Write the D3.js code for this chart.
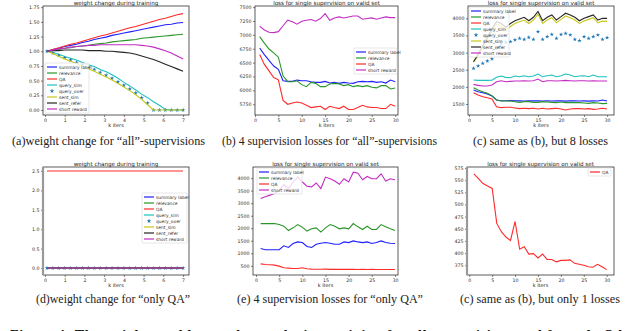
<!DOCTYPE html>
<html>
<head>
<style>
body{margin:0;background:#fff;}
svg text{font-family:"DejaVu Sans",sans-serif;}
.cap{font-family:"Liberation Serif",serif;font-size:12px;fill:#222;}
.foot{font-family:"Liberation Serif",serif;font-size:14px;font-weight:bold;fill:#111;}
</style>
</head>
<body>
<svg width="640" height="331"></svg>
<script src="https://d3js.org/d3.v7.min.js"></script>
<script>
// ---- weight curves, "all" supervisions (a) ----
var weightIters = [0.1,0.4,0.7,1.0,1.3,1.6,1.9,2.2,2.5,2.8,3.1,3.4,3.7,4.0,4.3,4.6,4.9,5.2,5.5,5.8,6.1,6.4,6.7,7.0];
var wSummary = [1.00,1.03,1.05,1.08,1.10,1.12,1.15,1.17,1.20,1.22,1.24,1.27,1.29,1.31,1.33,1.35,1.37,1.39,1.41,1.43,1.45,1.46,1.48,1.49];
var wRelevance = [1.00,1.02,1.03,1.05,1.06,1.08,1.09,1.10,1.12,1.13,1.14,1.16,1.17,1.18,1.19,1.20,1.22,1.23,1.24,1.25,1.26,1.27,1.28,1.29];
var wQA = [1.00,1.03,1.06,1.09,1.12,1.14,1.17,1.20,1.23,1.26,1.28,1.31,1.34,1.37,1.40,1.42,1.45,1.48,1.51,1.54,1.56,1.59,1.62,1.64];
var wQuerySim = [1.00,0.98,0.95,0.91,0.88,0.85,0.81,0.77,0.74,0.69,0.65,0.60,0.54,0.47,0.41,0.34,0.27,0.21,0.14,0.08,0.01,0.00,0.00,0.00];
var wQueryOver = [1.00,0.97,0.93,0.89,0.85,0.81,0.77,0.73,0.69,0.64,0.59,0.54,0.48,0.42,0.36,0.29,0.21,0.12,0.00,0.00,0.00,0.00,0.00,0.00];
var wSentSim = [1.00,0.96,0.91,0.87,0.83,0.79,0.75,0.70,0.66,0.61,0.56,0.51,0.45,0.39,0.33,0.26,0.18,0.09,0.00,0.00,0.00,0.00,0.00,0.00];
var wSentRefer = [1.00,1.01,1.01,1.02,1.02,1.02,1.02,1.01,1.01,1.01,1.00,1.00,0.99,0.98,0.97,0.95,0.92,0.89,0.86,0.82,0.78,0.74,0.70,0.66];
var wShortReward = [1.00,1.02,1.04,1.05,1.07,1.08,1.09,1.10,1.10,1.11,1.11,1.11,1.11,1.11,1.11,1.11,1.10,1.09,1.07,1.04,1.01,0.97,0.92,0.87];

// ---- weight curves, only QA (d) ----
var dQA = [2.5,2.5,2.5,2.5,2.5,2.5,2.5,2.5,2.5,2.5,2.5,2.5,2.5,2.5,2.5,2.5,2.5,2.5,2.5,2.5,2.5,2.5,2.5,2.5];
var dZero = [0,0,0,0,0,0,0,0,0,0,0,0,0,0,0,0,0,0,0,0,0,0,0,0];

// ---- losses on valid set ----
var epochs = [1,2,3,4,5,6,7,8,9,10,11,12,13,14,15,16,17,18,19,20,21,22,23,24,25,26,27,28,29,30];
var bSummary = [6763,6645,6539,6439,6380,6173,6162,6162,6185,6173,6173,6156,6144,6144,6162,6132,6144,6126,6144,6132,6126,6156,6162,6156,6162,6144,6156,6132,6185,6156];
var bRelevance = [6969,6851,6745,6675,6598,6262,6156,6156,6173,6103,6067,6144,6126,6067,6067,6114,6126,6114,6085,6103,6067,6085,6067,6085,6056,6044,6085,6085,6026,6044];
var bQA = [6645,6468,6350,6232,6191,5820,5749,5772,5790,5772,5731,5690,5702,5714,5655,5714,5690,5672,5714,5655,5655,5690,5731,5702,5690,5690,5672,5672,5749,5714];
var bShort = [7158,7087,7046,7040,7058,7164,7264,7235,7193,7246,7264,7276,7246,7294,7382,7264,7305,7323,7305,7323,7341,7341,7282,7294,7305,7282,7305,7323,7311,7311];

var cSummary = [1908,1860,1830,1791,1733,1617,1597,1597,1600,1590,1597,1588,1592,1597,1590,1585,1597,1588,1592,1590,1585,1597,1592,1588,1592,1585,1590,1588,1617,1588];
var cRelevance = [1976,1908,1860,1811,1743,1617,1587,1587,1587,1568,1548,1568,1568,1548,1548,1568,1558,1548,1539,1558,1539,1548,1539,1539,1529,1519,1539,1529,1510,1519];
var cQA = [1830,1762,1713,1684,1646,1422,1393,1403,1403,1383,1364,1374,1364,1374,1354,1374,1354,1364,1374,1354,1325,1354,1364,1364,1354,1364,1344,1354,1374,1354];
var cQuerySim = [2200,2190,2190,2190,2195,2278,2317,2278,2268,2317,2297,2326,2297,2317,2375,2297,2326,2346,2297,2326,2375,2346,2297,2317,2326,2297,2346,2297,2297,2297];
var cQueryOver = [2540,2610,2686,2755,2815,3124,3270,3300,3320,3370,3415,3385,3445,3385,3610,3385,3465,3530,3415,3530,3560,3515,3385,3350,3465,3415,3465,3515,3385,3435];
var cSentSim = [2720,2900,3150,3400,3620,3820,3770,3660,3760,3850,3900,3950,3850,3950,4120,3850,3950,4020,3870,3970,4070,4020,3950,3850,3920,3970,4020,3870,3920,3910];
var cSentRefer = [2735,2950,3200,3450,3700,3900,3850,3740,3850,3930,3980,4030,3930,4030,4200,3930,4030,4100,3950,4050,4150,4100,4030,3930,4000,4050,4100,3950,4000,4000];
var cShort = [2073,2044,2025,2025,2054,2151,2180,2151,2161,2171,2171,2180,2171,2180,2229,2151,2180,2180,2171,2180,2190,2180,2171,2180,2180,2171,2180,2171,2171,2171];

var eSummary = [1194,1142,1142,1142,1142,1299,1233,1390,1455,1429,1273,1233,1364,1403,1429,1403,1364,1364,1455,1429,1494,1455,1429,1455,1390,1429,1494,1429,1403,1390];
var eRelevance = [2186,2186,2186,2186,2147,2082,1912,2016,2147,2043,1886,1977,2016,1847,2016,2147,2082,1977,2016,1977,2186,2056,1951,2082,1951,1951,2147,2056,1977,1912];
var eQA = [581,555,542,530,489,424,411,398,398,424,385,372,368,365,370,362,365,362,360,362,360,358,360,358,360,358,356,358,358,356];
var eShort = [3190,3256,3320,3387,3500,3752,3582,3843,4040,3843,3674,3648,3804,3582,4040,3974,3883,3752,3974,3843,4235,4196,3935,4065,3974,3974,4170,3883,3974,3935];

var fQA = [563,553,543,538,533,461,444,433,426,465,408,413,398,399,390,398,387,387,382,385,385,386,379,377,375,372,371,377,372,366];

// ---- ticks ----
var iterTicks = [0,1,2,3,4,5,6,7];
var weightTicksY = [0,0.25,0.5,0.75,1.0,1.25,1.5,1.75];
var onlyQATicksY = [0,0.5,1.0,1.5,2.0,2.5];
var epochTicks = [0,5,10,15,20,25,30];
var bTicksY = [5750,6000,6250,6500,6750,7000,7250,7500];
var cTicksY = [1500,2000,2500,3000,3500,4000];
var eTicksY = [500,1000,1500,2000,2500,3000,3500,4000];
var fTicksY = [375,400,425,450,475,500,525,550,575];

var captions = [
  "(a)weight change for \u201call\u201d-supervisions",
  "(b) 4 supervision losses for \u201call\u201d-supervisions",
  "(c) same as (b), but 8 losses",
  "(d)weight change for \u201conly QA\u201d",
  "(e) 4 supervision losses for \u201conly QA\u201d",
  "(c) same as (b), but only 1 losses"
];

var col = {summary:"#1f1fff", relevance:"#2a962a", qa:"#ff2a2a", querySim:"#1fc0c0",
           queryOver:"#1f77b4", sentSim:"#c8c81a", sentRefer:"#262626", shortR:"#c42cc4"};

function eight(xs, v) {
  return [
    {name:"summary label", color:col.summary, xs:xs, v:v[0]},
    {name:"relevance", color:col.relevance, xs:xs, v:v[1]},
    {name:"QA", color:col.qa, xs:xs, v:v[2]},
    {name:"query_sim", color:col.querySim, xs:xs, v:v[3]},
    {name:"query_over", color:col.queryOver, xs:xs, v:v[4], marker:true},
    {name:"sent_sim", color:col.sentSim, xs:xs, v:v[5]},
    {name:"sent_refer", color:col.sentRefer, xs:xs, v:v[6]},
    {name:"short reward", color:col.shortR, xs:xs, v:v[7]}
  ];
}
function four(xs, v) {
  return [
    {name:"summary label", color:col.summary, xs:xs, v:v[0]},
    {name:"relevance", color:col.relevance, xs:xs, v:v[1]},
    {name:"QA", color:col.qa, xs:xs, v:v[2]},
    {name:"short reward", color:col.shortR, xs:xs, v:v[3]}
  ];
}

var panels = [
  {left:43, right:189, top:6, bottom:115, xd:[-0.1,7.3], yd:[-0.085,1.77], xt:iterTicks, yt:weightTicksY, yf:".2f",
   title:"weight change during training", series:eight(weightIters,[wSummary,wRelevance,wQA,wQuerySim,wQueryOver,wSentSim,wSentRefer,wShortReward]),
   leg:{x:45, y:63, w:44}},
  {left:255, right:398, top:6, bottom:115, xd:[0,30.6], yd:[5556,7520], xt:epochTicks, yt:bTicksY, yf:"d",
   title:"loss for single supervision on valid set", series:four(epochs,[bSummary,bRelevance,bQA,bShort]),
   leg:{x:354, y:48, w:43}},
  {left:468, right:614, top:6, bottom:115, xd:[-0.2,31.5], yd:[1179,4360], xt:epochTicks, yt:cTicksY, yf:"d",
   title:"loss for single supervision on valid set", series:eight(epochs,[cSummary,cRelevance,cQA,cQuerySim,cQueryOver,cSentSim,cSentRefer,cShort]),
   leg:{x:469, y:7, w:40}},
  {left:43, right:189, top:167, bottom:275, xd:[-0.1,7.3], yd:[-0.179,2.602], xt:iterTicks, yt:onlyQATicksY, yf:".1f",
   title:"weight change during training", series:eight(weightIters,[dZero,dZero,dQA,dZero,dZero,dZero,dZero,dZero]),
   leg:{x:142, y:193, w:45}, leftBar:true},
  {left:253, right:398, top:167, bottom:275, xd:[-0.65,30.65], yd:[136,4442], xt:epochTicks, yt:eTicksY, yf:"d",
   title:"loss for single supervision on valid set", series:four(epochs,[eSummary,eRelevance,eQA,eShort]),
   leg:{x:257, y:168, w:45}},
  {left:467, right:614, top:167, bottom:275, xd:[-0.5,31.6], yd:[355,577], xt:epochTicks, yt:fTicksY, yf:"d",
   title:"loss for single supervision on valid set", series:[{name:"QA", color:col.qa, xs:epochs, v:fQA}],
   leg:{x:588, y:168, w:23}, leftBar:true}
];

var svg = d3.select("svg");
svg.append("rect").attr("width",640).attr("height",331).attr("fill","#fff");

panels.forEach(function(p, k) {
  var x = d3.scaleLinear().domain(p.xd).range([p.left, p.right]);
  var y = d3.scaleLinear().domain(p.yd).range([p.bottom, p.top]);
  var g = svg.append("g");

  svg.append("clipPath").attr("id", "clip" + k).append("rect")
    .attr("x", p.left).attr("y", p.top).attr("width", p.right - p.left).attr("height", p.bottom - p.top);
  var plot = g.append("g").attr("clip-path", "url(#clip" + k + ")");

  var line = d3.line().x(function(d) { return x(d[0]); }).y(function(d) { return y(d[1]); });
  p.series.forEach(function(s) {
    var pts = s.v.map(function(v, i) { return [s.xs[i], v]; });
    if (s.marker) {
      plot.selectAll(null).data(pts).enter().append("path")
        .attr("d", d3.symbol(d3.symbolStar, 6))
        .attr("transform", function(d) { return "translate(" + x(d[0]) + "," + y(d[1]) + ")"; })
        .attr("fill", s.color);
    } else {
      plot.append("path").datum(pts).attr("d", line)
        .attr("fill", "none").attr("stroke", s.color).attr("stroke-width", 1.1);
    }
  });

  // axes
  var xa = g.append("g").attr("transform", "translate(0," + p.bottom + ")")
    .call(d3.axisBottom(x).tickValues(p.xt).tickSize(2).tickPadding(1.5).tickFormat(d3.format("d")));
  var ya = g.append("g").attr("transform", "translate(" + p.left + ",0)")
    .call(d3.axisLeft(y).tickValues(p.yt).tickSize(2).tickPadding(1.5).tickFormat(d3.format(p.yf)));
  [xa, ya].forEach(function(a) {
    a.select(".domain").remove();
    a.attr("font-size", 4.7).attr("font-family", "DejaVu Sans");
    a.selectAll("line").attr("stroke", "#333").attr("stroke-width", 0.6);
    a.selectAll("text").attr("fill", "#333");
  });

  // frame
  g.append("rect").attr("x", p.left).attr("y", p.top)
    .attr("width", p.right - p.left).attr("height", p.bottom - p.top)
    .attr("fill", "none").attr("stroke", "#333").attr("stroke-width", 0.8);
  if (p.leftBar) {
    g.append("line").attr("x1", p.left).attr("x2", p.left).attr("y1", p.top).attr("y2", p.bottom)
      .attr("stroke", "#999").attr("stroke-width", 2.2);
  }

  g.append("text").attr("x", (p.left + p.right) / 2).attr("y", p.top - 0.9)
    .attr("text-anchor", "middle").attr("font-size", 5.6).attr("fill", "#222").text(p.title);
  g.append("text").attr("x", (p.left + p.right) / 2).attr("y", p.bottom + 12)
    .attr("text-anchor", "middle").attr("font-size", 5).attr("fill", "#222").text("k iters");

  // legend
  var rowH = 6, n = p.series.length;
  var lg = g.append("g").attr("transform", "translate(" + p.leg.x + "," + p.leg.y + ")");
  lg.append("rect").attr("width", p.leg.w).attr("height", n * rowH + 2).attr("rx", 1)
    .attr("fill", "#fff").attr("fill-opacity", 0.8).attr("stroke", "#ccc").attr("stroke-width", 0.5);
  var item = lg.selectAll("g.it").data(p.series).enter().append("g")
    .attr("transform", function(d, i) { return "translate(0," + (1 + rowH * i + rowH / 2) + ")"; });
  item.each(function(s) {
    var it = d3.select(this);
    if (s.marker) {
      it.append("path").attr("d", d3.symbol(d3.symbolStar, 7)).attr("transform", "translate(7,0)").attr("fill", s.color);
    } else {
      it.append("line").attr("x1", 2).attr("x2", 12).attr("stroke", s.color).attr("stroke-width", 1.2);
    }
    it.append("text").attr("x", 14).attr("dy", "0.35em").attr("font-size", 4.4).attr("fill", "#333").text(s.name);
  });
});

// sub-figure captions
var capPos = [[12,145,193],[222,145,215],[473,145,135],[36,303,154],[237,303,186],[460,303,160]];
captions.forEach(function(c, i) {
  svg.append("text").attr("class", "cap").attr("x", capPos[i][0]).attr("y", capPos[i][1])
    .attr("textLength", capPos[i][2]).attr("lengthAdjust", "spacingAndGlyphs").text(c);
});

// figure caption, cut off by the picture's bottom edge
svg.append("text").attr("class", "foot").attr("x", 10).attr("y", 340)
  .attr("textLength", 615).attr("lengthAdjust", "spacing")
  .text("Figure 4: The weights and losses change during training for all supervisions and for only QA");
</script>
</body>
</html>
